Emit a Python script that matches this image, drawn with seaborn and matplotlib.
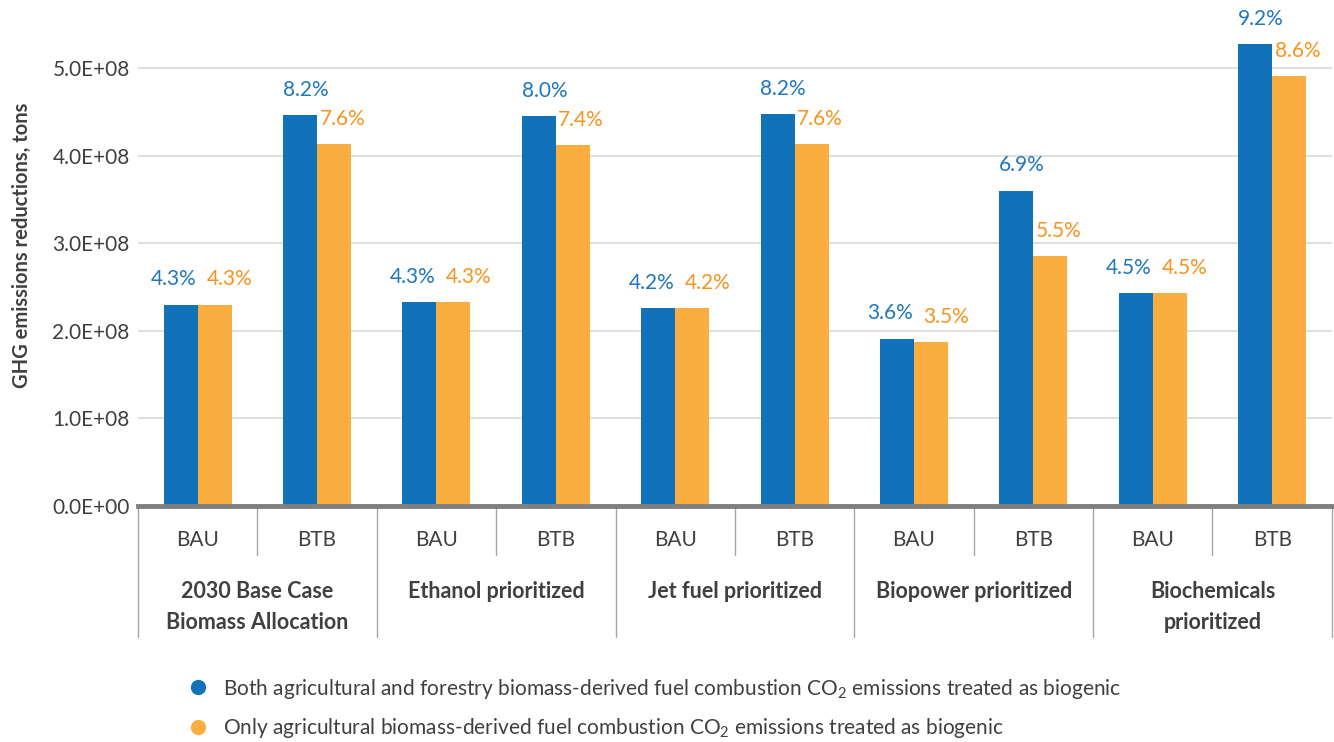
import numpy as np
import pandas as pd
import matplotlib.pyplot as plt
import seaborn as sns
from matplotlib.lines import Line2D
from matplotlib.ticker import FuncFormatter

# data
scenarios = ["2030 Base Case\nBiomass Allocation", "Ethanol prioritized", "Jet fuel prioritized",
             "Biopower prioritized", "Biochemicals\nprioritized"]
cases = ["BAU", "BTB"]
series = ["Both agricultural and forestry biomass-derived fuel combustion CO$_2$ emissions treated as biogenic",
          "Only agricultural biomass-derived fuel combustion CO$_2$ emissions treated as biogenic"]
both_vals = [2.30e8, 4.46e8, 2.33e8, 4.45e8, 2.26e8, 4.47e8, 1.91e8, 3.60e8, 2.43e8, 5.27e8]
agri_vals = [2.30e8, 4.13e8, 2.33e8, 4.12e8, 2.26e8, 4.13e8, 1.87e8, 2.85e8, 2.43e8, 4.91e8]
both_pct = ["4.3%", "8.2%", "4.3%", "8.0%", "4.2%", "8.2%", "3.6%", "6.9%", "4.5%", "9.2%"]
agri_pct = ["4.3%", "7.6%", "4.3%", "7.4%", "4.2%", "7.6%", "3.5%", "5.5%", "4.5%", "8.6%"]

colors = ["#1172BA", "#FBAE40"]
text_colors = ["#1F77C0", "#F7931E"]

sns.set_style("white")
plt.rcParams['font.family'] = ['Lato', 'DejaVu Sans']
plt.rcParams['mathtext.fontset'] = 'custom'
plt.rcParams['mathtext.rm'] = 'Lato'

slots = [f"{i}" for i in range(len(both_vals))]
df = pd.DataFrame({
    "slot": slots * 2,
    "value": both_vals + agri_vals,
    "series": [series[0]] * len(slots) + [series[1]] * len(slots),
})

fig = plt.figure(figsize=(13.34, 7.42), dpi=100)
ax = fig.add_axes([0.1034, 0.318, 0.895, 0.6375])

sns.barplot(data=df, x="slot", y="value", hue="series", order=slots, hue_order=series,
            palette=colors, saturation=1, width=0.57, gap=0, linewidth=0, legend=False, ax=ax)

# percentage labels above each bar, pushed apart when the pair sits at the same level
blue_bars, orange_bars = ax.containers[0], ax.containers[1]
for bb, ob, bp, op in zip(blue_bars, orange_bars, both_pct, agri_pct):
    close = abs(bb.get_height() - ob.get_height()) < 0.2e8
    dxs = (-5, 11) if close else (4, 6)
    for bar, p, tc, dx in zip([bb, ob], [bp, op], text_colors, dxs):
        ax.annotate(p, (bar.get_x() + bar.get_width() / 2, bar.get_height()),
                    xytext=(dx, 11), textcoords="offset points", ha="center", va="bottom",
                    color=tc, fontsize=15)

ax.set_ylim(0, 5.4e8)
ax.set_xlim(-0.5, len(slots) - 0.5)
ax.set_yticks(np.arange(0, 5.01e8, 1e8))
ax.yaxis.set_major_formatter(FuncFormatter(lambda v, p: f"{v:.1E}"))
ax.tick_params(axis="y", labelsize=15, colors="#404040", length=0, pad=6)
ax.set_xticks([])
ax.set_xlabel("")
ax.set_ylabel("GHG emissions reductions, tons", fontsize=14.5, fontweight="bold", color="#404040")
ax.yaxis.set_label_coords(-0.089, 0.552)
ax.grid(axis="y", color="#d9d9d9", linewidth=1.2)
ax.set_axisbelow(True)
for s in ["left", "right", "top"]:
    ax.spines[s].set_visible(False)
ax.spines["bottom"].set_color("#7f7f7f")
ax.spines["bottom"].set_linewidth(3.5)

# multi-level category axis
tr = ax.get_xaxis_transform()
for i, s in enumerate(slots):
    ax.text(i, -0.072, cases[i % 2], transform=tr, ha="center", va="center", fontsize=15, color="#404040")
for g, name in enumerate(scenarios):
    ax.text(2 * g + 0.5, -0.158, name, transform=tr, ha="center", va="top", fontsize=15.5,
            fontweight="bold", color="#404040", linespacing=1.6)
    ax.plot([2 * g + 0.5, 2 * g + 0.5], [0, -0.104], transform=tr, color="#a6a6a6", lw=1, clip_on=False)
for b in range(len(scenarios) + 1):
    ax.plot([2 * b - 0.5, 2 * b - 0.5], [0, -0.277], transform=tr, color="#a6a6a6", lw=1, clip_on=False)

handles = [Line2D([], [], marker="o", linestyle="", markersize=10, color=c) for c in colors]
fig.legend(handles, series, loc="upper left", bbox_to_anchor=(0.119, 1 - 658 / 742), frameon=False,
           fontsize=15, labelspacing=0.75, handletextpad=0.2, labelcolor="#404040")

fig.savefig("out.png", dpi=100)
